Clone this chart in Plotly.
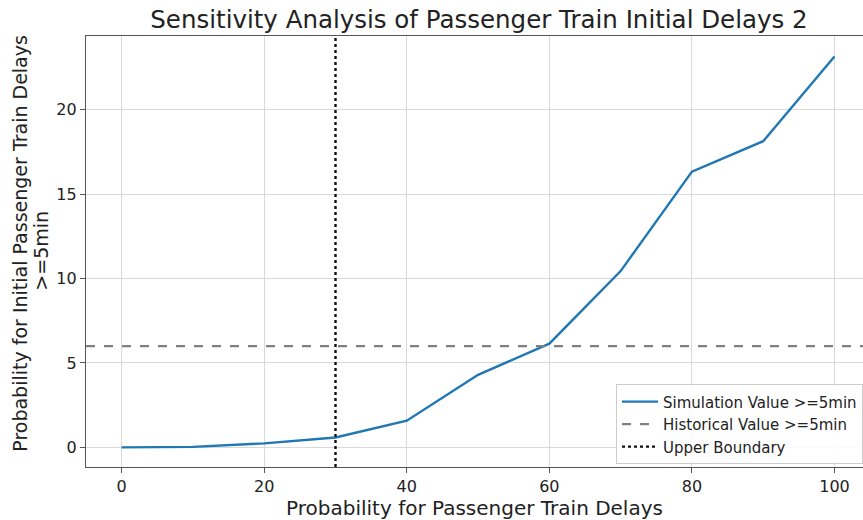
import plotly.graph_objects as go

# Delay probability (%) and resulting share of initial delays >= 5 min
delay_prob = [0, 10, 20, 30, 40, 50, 60, 70, 80, 90, 100]
sim_value = [0.0, 0.03, 0.24, 0.59, 1.58, 4.3, 6.14, 10.44, 16.33, 18.13, 23.15]
historical_value = 6.0
upper_boundary = 30

y_title_lines = ["Probability for Initial Passenger Train Delays", ">=5min"]

font_family = "DejaVu Sans"
grid_col = "#d9d9d9"
spine_col = "#555555"
text_col = "#222222"

fig = go.Figure()
fig.add_trace(go.Scatter(
    x=delay_prob, y=sim_value, mode="lines",
    line=dict(color="#1f77b4", width=2.4),
    name="Simulation Value >=5min",
))
fig.add_trace(go.Scatter(
    x=[-5, 110], y=[historical_value, historical_value], mode="lines",
    line=dict(color="#808080", width=2.4, dash="dash"),
    name="Historical Value >=5min",
))
fig.add_trace(go.Scatter(
    x=[upper_boundary, upper_boundary], y=[-1.16, 24.36], mode="lines",
    line=dict(color="#111111", width=2.4, dash="dot"),
    name="Upper Boundary",
))

fig.update_layout(
    width=863, height=520,
    margin=dict(l=86, r=0, t=36, b=53),
    paper_bgcolor="white", plot_bgcolor="white",
    font=dict(family=font_family, color=text_col),
    title=dict(
        text="Sensitivity Analysis of Passenger Train Initial Delays 2",
        x=0.555, xanchor="center", y=0.963, yanchor="middle",
        font=dict(size=24.5, color=text_col),
    ),
    showlegend=True,
    legend=dict(
        x=1.0, xanchor="right", y=0.006, yanchor="bottom",
        bgcolor="rgba(255,255,255,0.85)", bordercolor="#cccccc", borderwidth=1,
        font=dict(size=15, color=text_col),
        tracegroupgap=0, itemwidth=36,
    ),
)

# Two-line rotated y-axis title with tight line spacing
for text, x_off, y_pos in [(y_title_lines[0], -66, 0.518), (y_title_lines[1], -45, 0.502)]:
    fig.add_annotation(
        text=text, textangle=-90,
        xref="paper", yref="paper", x=0, y=y_pos,
        xanchor="center", yanchor="middle", xshift=x_off,
        showarrow=False, font=dict(size=19, color=text_col),
    )

fig.update_xaxes(
    range=[-5, 104], tickvals=[0, 20, 40, 60, 80, 100],
    showgrid=True, gridcolor=grid_col, gridwidth=1,
    showline=True, linecolor=spine_col, linewidth=1.2, mirror=True,
    ticks="outside", ticklen=5, tickcolor=spine_col,
    tickfont=dict(size=16, color=text_col),
    zeroline=False,
    title=dict(text="Probability for Passenger Train Delays", font=dict(size=20, color=text_col), standoff=4),
)
fig.update_yaxes(
    range=[-1.16, 24.36], tickvals=[0, 5, 10, 15, 20],
    showgrid=True, gridcolor=grid_col, gridwidth=1,
    showline=True, linecolor=spine_col, linewidth=1.2, mirror=True,
    ticks="outside", ticklen=5, tickcolor=spine_col,
    tickfont=dict(size=16, color=text_col),
    zeroline=False,
)

fig.write_html("out.html")
